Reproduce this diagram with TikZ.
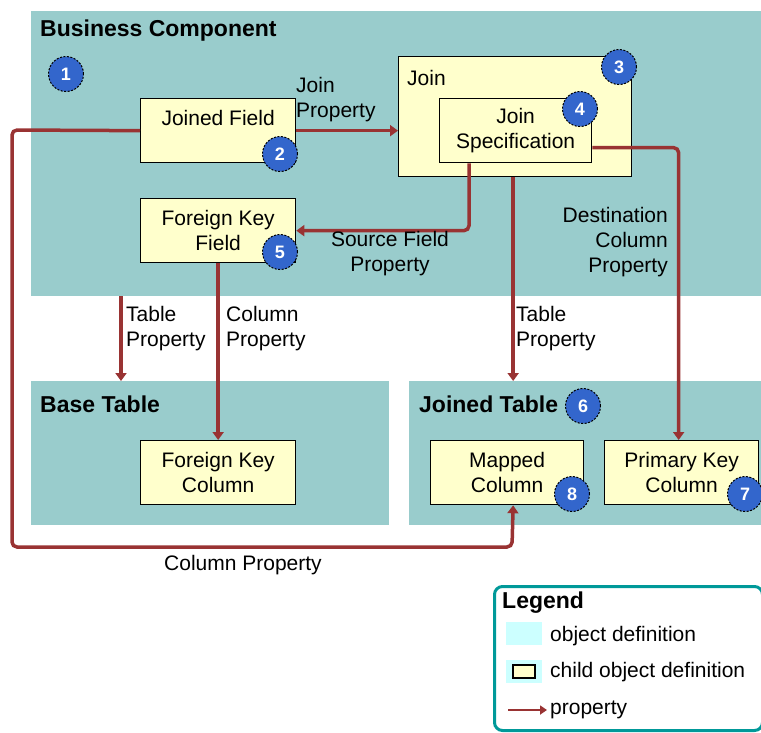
\documentclass[tikz,border=0pt]{standalone}
\usepackage{fontspec}
\setmainfont{Liberation Sans}
\usetikzlibrary{arrows.meta}
\definecolor{panel}{HTML}{99CCCC}
\definecolor{childc}{HTML}{FFFFCC}
\definecolor{propc}{HTML}{993333}
\definecolor{badgec}{HTML}{3366CC}
\definecolor{swatchc}{HTML}{CCFFFF}
\definecolor{legendedge}{HTML}{009999}
\begin{document}
\begin{tikzpicture}[x=1pt,y=-1pt,
  font=\fontsize{21}{25}\selectfont,
  panelbox/.style={fill=panel, draw=none, anchor=north west, inner sep=0pt},
  childbox/.style={fill=childc, draw=black, line width=1.3pt, anchor=north west, inner sep=0pt, align=center},
  badgenode/.style={circle, fill=badgec, draw=black, dash pattern=on 2pt off 1.5pt, line width=1pt, minimum size=35pt, inner sep=0pt, text=white, font=\fontsize{18}{18}\selectfont\bfseries},
  propline/.style={draw=propc, line width=3.5pt, -{Triangle[length=8pt,width=11pt]}, rounded corners=5pt},
  lbl/.style={inner sep=0pt, align=left},
  paneltitle/.style={font=\fontsize{23}{25}\selectfont\bfseries, anchor=west, inner sep=0pt}]
\useasboundingbox (0,0) rectangle (761,732);
% panels
\node[panelbox, minimum width=730pt, minimum height=285pt] (bc) at (31,11) {};
\node[panelbox, minimum width=358pt, minimum height=144pt] (bt) at (31,381) {};
\node[panelbox, minimum width=352pt, minimum height=144pt] (jt) at (409,381) {};
\node[paneltitle] (bctitle) at (40,31) {Business Component};
\node[paneltitle] (bttitle) at (40,404) {Base Table};
\node[paneltitle] (jttitle) at (419,404) {Joined Table};
% child boxes
\node[childbox, minimum width=155pt, minimum height=64pt] (jf) at (140,98) {Joined Field\\~};
\node[childbox, minimum width=155pt, minimum height=64pt] (fkf) at (140,198) {Foreign Key\\Field};
\node[childbox, minimum width=233pt, minimum height=120pt] (join) at (398,56) {};
\node[lbl, anchor=west] (joinlbl) at (407,78) {Join};
\node[childbox, minimum width=152pt, minimum height=64pt] (js) at (439,98) {Join\\Specification};
\node[childbox, minimum width=155pt, minimum height=64pt] (fkc) at (140,440) {Foreign Key\\Column};
\node[childbox, minimum width=153pt, minimum height=64pt] (mc) at (430,440) {Mapped\\Column};
\node[childbox, minimum width=154pt, minimum height=64pt] (pkc) at (604,440) {Primary Key\\Column};
% badges
\node[badgenode] (b1) at (66,74) {1};
\node[badgenode] (b2) at (280,154) {2};
\node[badgenode] (b3) at (619,67) {3};
\node[badgenode] (b4) at (580,109) {4};
\node[badgenode] (b5) at (280,252) {5};
\node[badgenode] (b6) at (583,406) {6};
\node[badgenode] (b7) at (745,494) {7};
\node[badgenode] (b8) at (572,494) {8};
% connectors
\draw[propline] (jf.east) -- (join.west |- jf.east);
\draw[propline] (jf.west) -- (12,130) -- (12,547) -- (512,547) -- ([xshift=6pt]mc.south);
\draw[propline] ([xshift=30pt]js.south west) |- (fkf.east);
\draw[propline] ([xshift=-2pt]join.south) -- ([xshift=-2pt]join.south |- jt.north);
\draw[propline] ([yshift=-17pt]js.east) -| ([xshift=-3pt]pkc.north);
\draw[propline] ([xshift=90pt]bc.south west) -- ([xshift=90pt]bt.north west);
\draw[propline] (fkf.south) -- (fkc.north);
% labels
\node[lbl, anchor=west] (l1) at (296,100) {Join\\Property};
\node[lbl, align=center] (l2) at (390,254) {Source Field\\Property};
\node[lbl, align=right, anchor=east] (l3) at (668,242) {Destination\\Column\\Property};
\node[lbl, anchor=west] (l4) at (126,329) {Table\\Property};
\node[lbl, anchor=west] (l5) at (226,329) {Column\\Property};
\node[lbl, anchor=west] (l6) at (516,329) {Table\\Property};
\node[lbl] (l7) at (243,565) {Column Property};
% legend
\node[draw=legendedge, line width=3pt, rounded corners=8pt, anchor=north west, minimum width=268pt, minimum height=144pt, inner sep=0pt] (legend) at (493,585) {};
\node[paneltitle] (legtitle) at (502,603) {Legend};
\node[fill=swatchc, anchor=north west, minimum width=36pt, minimum height=23pt, inner sep=0pt] (sw1) at (506,622) {};
\node[fill=swatchc, anchor=north west, minimum width=36pt, minimum height=23pt, inner sep=0pt] (sw2) at (506,660) {};
\node[fill=childc, draw=black, line width=1.5pt, minimum width=22pt, minimum height=13pt, inner sep=0pt] (sw2in) at (sw2.center) {};
\coordinate (arrs) at (508,710);
\coordinate (arre) at (547,710);
\draw[draw=propc, line width=2.5pt, -{Triangle[length=7pt,width=9pt]}] (arrs) -- (arre);
\node[lbl, anchor=west] (lg1) at (550,636) {object definition};
\node[lbl, anchor=west] (lg2) at (550,672) {child object definition};
\node[lbl, anchor=west] (lg3) at (550,710) {property};
\end{tikzpicture}
\end{document}
